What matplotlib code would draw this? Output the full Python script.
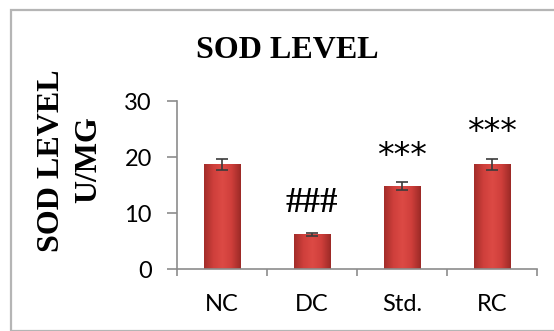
import numpy as np
import matplotlib
matplotlib.use("Agg")
import matplotlib.pyplot as plt
from matplotlib.patches import Rectangle
from matplotlib.colors import LinearSegmentedColormap

# SOD activity per group (U/mg), mean and error
groups = ["NC", "DC", "Std.", "RC"]
sod_mean = [18.7, 6.2, 14.8, 18.7]
sod_err = [1.0, 0.3, 0.7, 1.0]
marks = ["", "###", "***", "***"]

yticks = [0, 10, 20, 30]

W, H = 554, 331
fig = plt.figure(figsize=(W / 100, H / 100), dpi=100)
fig.patch.set_facecolor("white")

# outer chart-area border
fig.add_artist(Rectangle((11 / W, 0), 1.0, 1 - 10 / H, transform=fig.transFigure,
                         fill=False, edgecolor="#b5b5b5", linewidth=1.6))

ax = fig.add_axes([177 / W, 62 / H, 360 / W, 168 / H])
ax.set_xlim(-0.5, len(groups) - 0.5)
ax.set_ylim(0, 30)

x = np.arange(len(groups))
bars = ax.bar(x, sod_mean, width=0.41, color="#c93b37", edgecolor="#9a2c29",
              linewidth=0.6, zorder=2)

# shaded fill for each bar
shade = LinearSegmentedColormap.from_list(
    "shade", ["#a32d2a", "#cf3f3b", "#dc4a45", "#cf3f3b", "#9c2a27"])
grad = np.linspace(0, 1, 64).reshape(1, -1)
for b in bars:
    x0, w, h = b.get_x(), b.get_width(), b.get_height()
    im = ax.imshow(grad, extent=(x0, x0 + w, 0, h), aspect="auto",
                   cmap=shade, zorder=2.5, interpolation="bilinear")
    im.set_clip_path(b)

ax.errorbar(x, sod_mean, yerr=sod_err, fmt="none", ecolor="#3b3b3b",
            elinewidth=1.2, capsize=4.5, capthick=1.2, zorder=3)

# significance symbols above the error bars
for xi, m, e, s in zip(x, sod_mean, sod_err, marks):
    if not s:
        continue
    if s.startswith("#"):
        ax.annotate(s, (xi, m + e), xytext=(0, 15), textcoords="offset points",
                    ha="center", va="baseline", fontsize=25, fontweight="bold",
                    family="Liberation Serif", color="black")
    else:
        ax.annotate(s, (xi, m + e), xytext=(0, 12), textcoords="offset points",
                    ha="center", va="baseline", fontsize=24,
                    family="DejaVu Sans", color="black")

for side in ("top", "right"):
    ax.spines[side].set_visible(False)
for side in ("left", "bottom"):
    ax.spines[side].set_color("#8c8c8c")
    ax.spines[side].set_linewidth(1.2)

ax.set_yticks(yticks)
ax.set_yticklabels([str(t) for t in yticks], family="Lato", fontsize=17)
ax.tick_params(axis="y", length=7, width=1.2, color="#8c8c8c", pad=11,
               direction="out")

ax.set_xticks(np.arange(-0.5, len(groups), 1.0))
ax.set_xticklabels([])
ax.set_xticks(x, minor=True)
ax.set_xticklabels(groups, minor=True, family="Lato", fontsize=17)
ax.tick_params(axis="x", which="major", length=5, width=1.2, color="#8c8c8c",
               direction="out")
ax.tick_params(axis="x", which="minor", length=0, pad=18)

fig.text(287 / W, 1 - 51 / H, "SOD LEVEL", ha="center", va="center",
         family="Liberation Serif", fontweight="bold", fontsize=23)
fig.text(52 / W, 1 - 161 / H, "SOD LEVEL", ha="center", va="center",
         rotation=90, family="Liberation Serif", fontweight="bold", fontsize=23)
fig.text(89 / W, 1 - 160 / H, "U/MG", ha="center", va="center",
         rotation=90, family="Liberation Serif", fontweight="bold", fontsize=23)

fig.savefig("out.png", dpi=100)
